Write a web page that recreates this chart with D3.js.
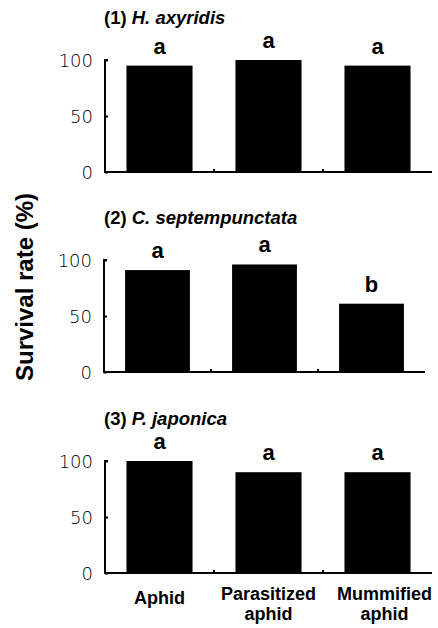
<!DOCTYPE html>
<html>
<head>
<meta charset="utf-8">
<script src="https://cdn.jsdelivr.net/npm/d3@7"></script>
<style>
  body { margin: 0; background: white; }
  text { font-family: "Liberation Sans", Arial, sans-serif; fill: black; }
</style>
</head>
<body>
<script>
//Data
var categories = ["Aphid", "Parasitized aphid", "Mummified aphid"];
var panelNumbers = ["(1)", "(2)", "(3)"];
var species = ["H. axyridis", "C. septempunctata", "P. japonica"];
var survival1 = [95, 100, 95];
var survival2 = [91, 96, 61];
var survival3 = [100, 90, 90];
var letters1 = ["a", "a", "a"];
var letters2 = ["a", "a", "b"];
var letters3 = ["a", "a", "a"];
var yTicks = [0, 50, 100];

var panels = [
    { values: survival1, letters: letters1 },
    { values: survival2, letters: letters2 },
    { values: survival3, letters: letters3 }
];

//Layout
var w = 438;
var h = 628;
var axisLeft = [105, 104, 105];
var axisRight = [432, 425, 432];
var panelTops = [60, 260, 461];
var panelHeight = 112;
var labelShift = [0, 0, 7];

var svg = d3.select("body").append("svg")
    .attr("width", w)
    .attr("height", h);

var x;

panels.forEach(function (p, i) {
    var top = panelTops[i];
    var left = axisLeft[i];
    x = d3.scaleBand()
        .domain(categories)
        .range([left, axisRight[i]])
        .paddingInner(0.394)
        .paddingOuter(0.197);
    var y = d3.scaleLinear()
        .domain([0, 100])
        .range([top + panelHeight, top]);

    var g = svg.append("g");

    //Title
    var title = g.append("text")
        .attr("x", 104)
        .attr("y", top - 36)
        .style("font-size", "18.5px")
        .style("font-weight", "bold");
    title.append("tspan").text(panelNumbers[i] + " ");
    title.append("tspan").style("font-style", "italic").text(species[i]);

    //Bars
    g.selectAll(".bar")
        .data(p.values)
        .enter().append("rect")
        .attr("x", function (d, j) { return x(categories[j]); })
        .attr("y", function (d) { return y(d); })
        .attr("width", x.bandwidth())
        .attr("height", function (d) { return y(0) - y(d); })
        .attr("fill", "black");

    //Significance letters
    g.selectAll(".letter")
        .data(p.values)
        .enter().append("text")
        .attr("x", function (d, j) { return x(categories[j]) + x.bandwidth() / 2; })
        .attr("y", function (d) { return y(d) - 12; })
        .attr("text-anchor", "middle")
        .style("font-size", "22px")
        .style("font-weight", "bold")
        .text(function (d, j) { return p.letters[j]; });

    //Y axis
    var yAxis = d3.axisRight(y)
        .tickValues(yTicks)
        .tickSize(3)
        .tickFormat("");
    var ya = g.append("g")
        .attr("transform", "translate(" + left + ",0)")
        .call(yAxis);
    ya.select(".domain").attr("stroke-width", 2).attr("d", "M3," + y(100) + "H0V" + y(0));
    ya.selectAll(".tick line").attr("stroke-width", 2);

    g.selectAll(".ylab")
        .data(yTicks)
        .enter().append("text")
        .attr("x", left - 12)
        .attr("y", function (d) { return y(d) + 6.5; })
        .attr("text-anchor", "end")
        .style("font-family", "'DejaVu Sans', sans-serif")
        .style("font-weight", "300")
        .style("font-size", "18px")
        .text(function (d) { return d; });

    //X axis
    g.append("line")
        .attr("x1", left - 1)
        .attr("x2", axisRight[i])
        .attr("y1", y(0))
        .attr("y2", y(0))
        .attr("stroke", "black")
        .attr("stroke-width", 2);
    g.selectAll(".xtick")
        .data(categories.slice(1))
        .enter().append("line")
        .attr("x1", function (d) { return x(d) - x.step() * x.paddingInner() / 2; })
        .attr("x2", function (d) { return x(d) - x.step() * x.paddingInner() / 2; })
        .attr("y1", y(0))
        .attr("y2", y(0) - 3)
        .attr("stroke", "black")
        .attr("stroke-width", 2);
});

//Category labels under the last panel (x is the last panel's scale)
var base = panelTops[2] + panelHeight;
categories.forEach(function (c, j) {
    var words = c.split(" ");
    var cx = x(c) + x.bandwidth() / 2 + labelShift[j];
    var t = svg.append("text")
        .attr("text-anchor", "middle")
        .attr("x", cx)
        .style("font-size", "18px")
        .style("font-weight", "bold");
    if (words.length === 1) {
        t.attr("y", base + 31).text(c);
    } else {
        t.attr("y", base + 27).text(words[0]);
        t.append("tspan")
            .attr("x", cx)
            .attr("dy", 20)
            .text(words[1]);
    }
});

//Y label
svg.append("text")
    .attr("transform", "translate(33,287) rotate(-90)")
    .attr("text-anchor", "middle")
    .style("font-size", "24px")
    .style("font-weight", "bold")
    .text("Survival rate (%)");
</script>
</body>
</html>
